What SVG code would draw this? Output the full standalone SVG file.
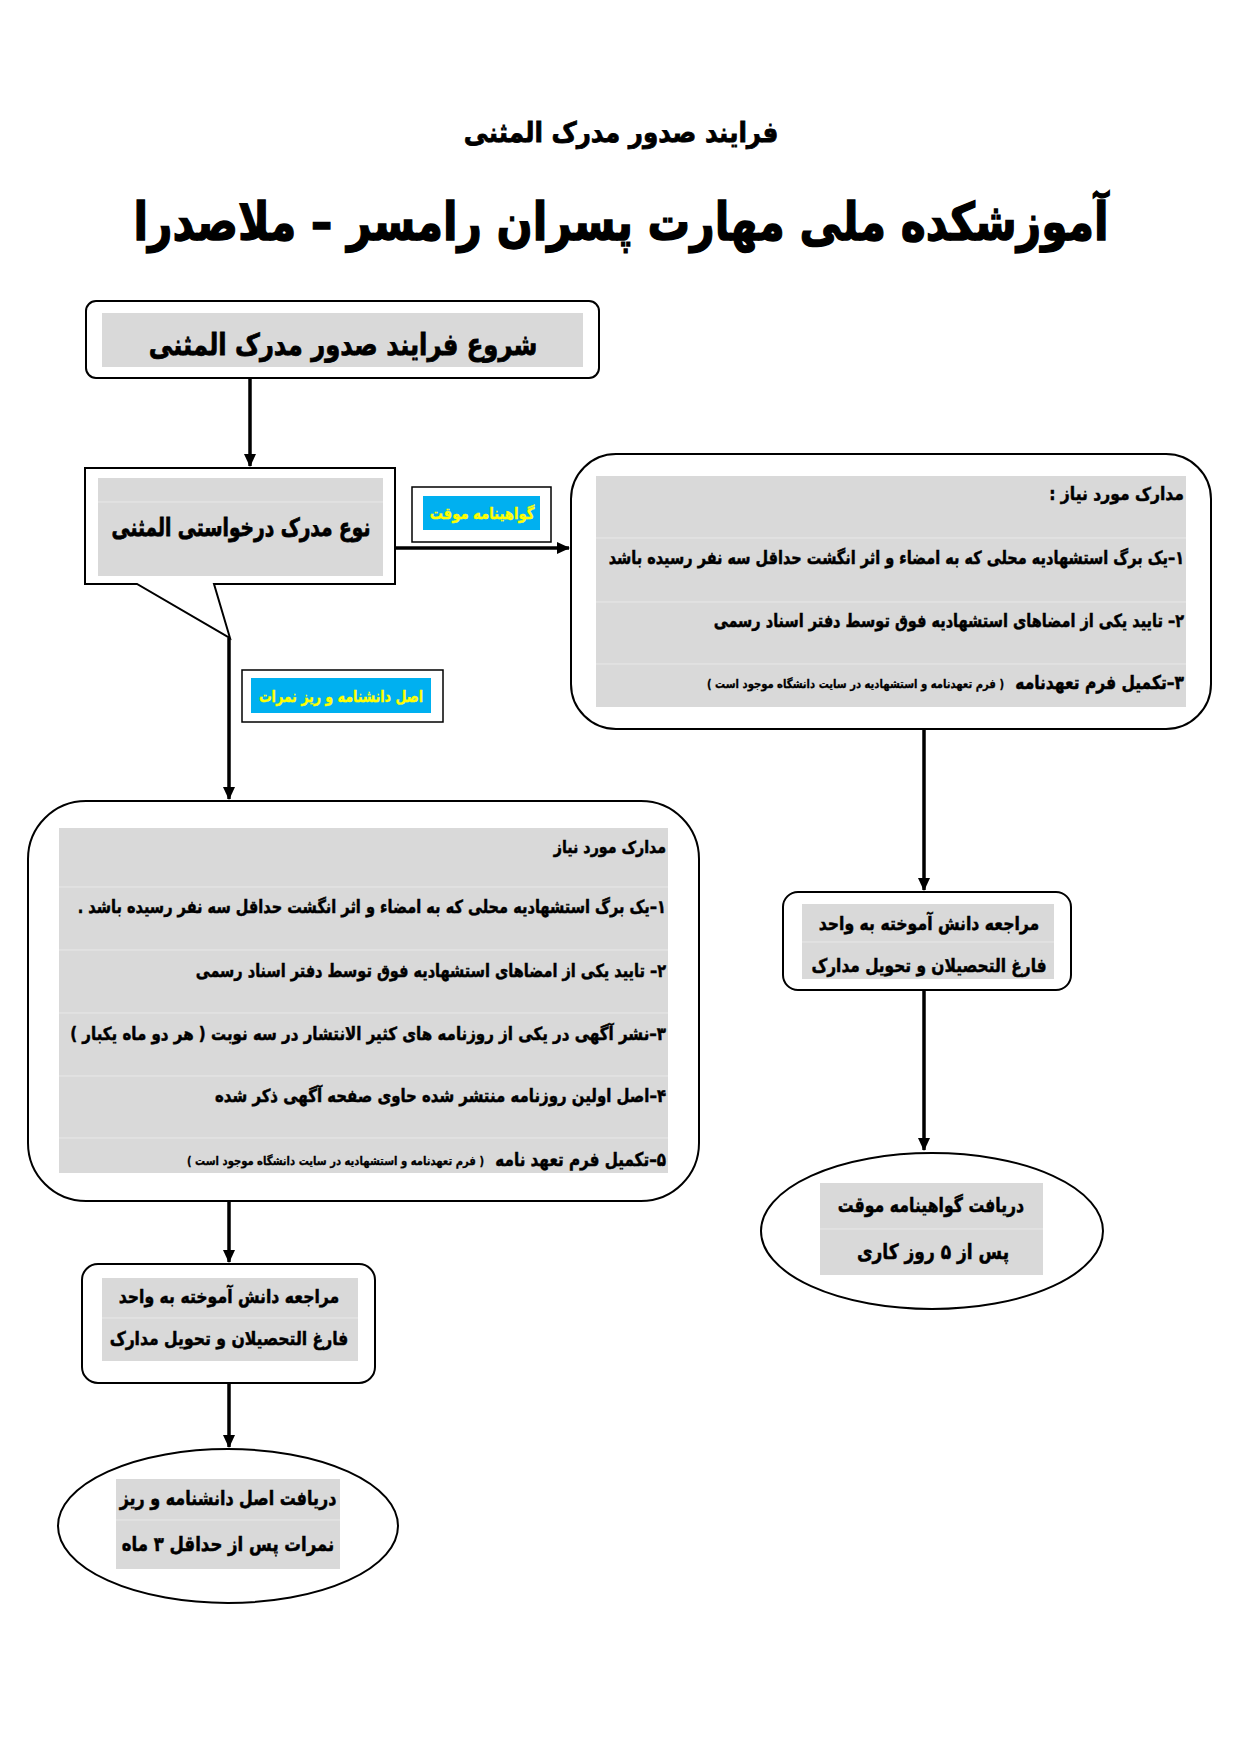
<svg xmlns="http://www.w3.org/2000/svg" width="1241" height="1755" viewBox="0 0 1241 1755">
<style>
text{font-family:"DejaVu Sans","Noto Sans",sans-serif;font-weight:bold;fill:#000;stroke:#000;stroke-width:0.5}
.c{text-anchor:middle}
.r{direction:rtl;text-anchor:start}
.box{fill:#fff;stroke:#000;stroke-width:2}
.gray{fill:#d9d9d9}
.sep{stroke:#e8e8e8;stroke-width:1}
.cyan{fill:#00b0f0}
.lbl{fill:#ffff00;stroke:#ffff00;stroke-width:0.4;font-size:16px}
.conn{stroke:#000;stroke-width:3.5;fill:none}
.li{font-size:18px}
.sm{font-size:12px;stroke-width:0.3}
.big{stroke-width:1.4}
.mid{stroke-width:0.8}
</style>
<defs>
<marker id="ah" markerUnits="userSpaceOnUse" markerWidth="14" markerHeight="14" refX="12" refY="7" orient="auto">
<path d="M0,1 L13,7 L0,13 Z" fill="#000"/>
</marker>
</defs>

<g id="title">
<text class="c mid" transform="translate(621,142) scale(0.879,1)" font-size="28">فرایند صدور مدرک المثنی</text>
<text class="c big" transform="translate(621,240) scale(0.816,1)" font-size="52">آموزشکده ملی مهارت پسران رامسر  –  ملاصدرا</text>
</g>

<g id="connectors">
<line class="conn" x1="250" y1="378" x2="250" y2="466" marker-end="url(#ah)"/>
<line class="conn" x1="395" y1="548" x2="569" y2="548" marker-end="url(#ah)"/>
<line class="conn" x1="229" y1="638" x2="229" y2="799" marker-end="url(#ah)"/>
<line class="conn" x1="924" y1="729" x2="924" y2="890" marker-end="url(#ah)"/>
<line class="conn" x1="924" y1="990" x2="924" y2="1150" marker-end="url(#ah)"/>
<line class="conn" x1="229" y1="1201" x2="229" y2="1262" marker-end="url(#ah)"/>
<line class="conn" x1="229" y1="1383" x2="229" y2="1447" marker-end="url(#ah)"/>
</g>

<g id="start">
<rect class="box" x="86" y="301" width="513" height="77" rx="10"/>
<rect class="gray" x="102" y="313" width="481" height="54"/>
<text class="c mid" transform="translate(343,355) scale(0.808,1)" font-size="30">شروع فرایند صدور مدرک المثنی</text>
</g>

<g id="decision">
<path class="box" d="M85,468 H395 V584 H214 L230,638 L137,584 H85 Z"/>
<rect class="gray" x="98" y="478" width="285" height="98"/>
<line class="sep" x1="98" y1="502" x2="383" y2="502"/>
<text class="c mid" transform="translate(241,536) scale(0.744,1)" font-size="25">نوع مدرک درخواستی المثنی</text>
</g>

<g id="label-temp">
<rect x="412" y="487" width="139" height="55" fill="#fff" stroke="#000" stroke-width="1.5"/>
<rect class="cyan" x="423" y="496" width="117" height="34"/>
<text class="c lbl" transform="translate(482,519) scale(0.82,1)">گواهینامه موقت</text>
</g>

<g id="label-orig">
<rect x="242" y="670" width="201" height="52" fill="#fff" stroke="#000" stroke-width="1.5"/>
<rect class="cyan" x="251" y="678" width="180" height="35"/>
<text class="c lbl" transform="translate(341,702) scale(0.786,1)">اصل دانشنامه و ریز نمرات</text>
</g>

<g id="docs-temp">
<rect class="box" x="571" y="454" width="640" height="275" rx="45"/>
<rect class="gray" x="596" y="476" width="590" height="231"/>
<line class="sep" x1="596" y1="538" x2="1186" y2="538"/>
<line class="sep" x1="596" y1="602" x2="1186" y2="602"/>
<line class="sep" x1="596" y1="664" x2="1186" y2="664"/>
<text class="r" transform="translate(1184,500) scale(0.866,1)" font-size="18">مدارک مورد نیاز :</text>
<text class="r li" transform="translate(1184,564) scale(0.805,1)">۱–یک برگ استشهادیه محلی که به امضاء و اثر انگشت حداقل سه نفر رسیده باشد</text>
<text class="r li" transform="translate(1184,627) scale(0.805,1)">۲– تایید یکی از امضاهای استشهادیه فوق توسط دفتر اسناد رسمی</text>
<text class="r" transform="translate(1184,689) scale(0.815,1)" font-size="19">۳–تکمیل فرم تعهدنامه</text>
<text class="r sm" transform="translate(1004,688) scale(0.836,1)">( فرم تعهدنامه و استشهادیه در  سایت دانشگاه موجود است )</text>
</g>

<g id="docs-orig">
<rect class="box" x="28" y="801" width="671" height="400" rx="58"/>
<rect class="gray" x="59" y="828" width="609" height="345"/>
<line class="sep" x1="59" y1="887" x2="668" y2="887"/>
<line class="sep" x1="59" y1="950" x2="668" y2="950"/>
<line class="sep" x1="59" y1="1013" x2="668" y2="1013"/>
<line class="sep" x1="59" y1="1076" x2="668" y2="1076"/>
<line class="sep" x1="59" y1="1138" x2="668" y2="1138"/>
<text class="r" transform="translate(666,853) scale(0.835,1)" font-size="17">مدارک مورد نیاز</text>
<text class="r li" transform="translate(666,913) scale(0.808,1)">۱–یک برگ استشهادیه محلی که به امضاء و اثر انگشت حداقل سه نفر رسیده باشد .</text>
<text class="r li" transform="translate(666,977) scale(0.805,1)">۲– تایید یکی از امضاهای استشهادیه فوق توسط دفتر اسناد رسمی</text>
<text class="r li" transform="translate(666,1040) scale(0.837,1)">۳–نشر آگهی در یکی از روزنامه های کثیر الانتشار در سه نوبت  ( هر دو ماه یکبار )</text>
<text class="r li" transform="translate(666,1102) scale(0.831,1)">۴–اصل اولین روزنامه منتشر شده حاوی صفحه آگهی ذکر شده</text>
<text class="r" transform="translate(666,1166) scale(0.799,1)" font-size="19">۵–تکمیل فرم تعهد نامه</text>
<text class="r sm" transform="translate(484,1165) scale(0.836,1)">( فرم تعهدنامه و استشهادیه در  سایت دانشگاه موجود است )</text>
</g>

<g id="office-right">
<rect class="box" x="783" y="892" width="288" height="98" rx="15"/>
<rect class="gray" x="802" y="904" width="252" height="75"/>
<line class="sep" x1="802" y1="942" x2="1054" y2="942"/>
<text class="c" transform="translate(929,930) scale(0.825,1)" font-size="19">مراجعه دانش آموخته به واحد</text>
<text class="c" transform="translate(929,972) scale(0.81,1)" font-size="19">فارغ التحصیلان و تحویل مدارک</text>
</g>

<g id="end-right">
<ellipse class="box" cx="932" cy="1231" rx="171" ry="78"/>
<rect class="gray" x="820" y="1183" width="223" height="92"/>
<line class="sep" x1="820" y1="1229" x2="1043" y2="1229"/>
<text class="c" transform="translate(931,1212) scale(0.785,1)" font-size="20">دریافت گواهینامه موقت</text>
<text class="c" transform="translate(933,1259) scale(0.812,1)" font-size="21">پس از ۵ روز کاری</text>
</g>

<g id="office-left">
<rect class="box" x="82" y="1264" width="293" height="119" rx="16"/>
<rect class="gray" x="102" y="1278" width="256" height="83"/>
<line class="sep" x1="102" y1="1318" x2="358" y2="1318"/>
<text class="c" transform="translate(229,1303) scale(0.825,1)" font-size="19">مراجعه دانش آموخته به واحد</text>
<text class="c" transform="translate(229,1345) scale(0.823,1)" font-size="19">فارغ التحصیلان و تحویل مدارک</text>
</g>

<g id="end-left">
<ellipse class="box" cx="228" cy="1526" rx="170" ry="77"/>
<rect class="gray" x="116" y="1479" width="224" height="90"/>
<line class="sep" x1="116" y1="1520" x2="340" y2="1520"/>
<text class="c" transform="translate(228,1505) scale(0.797,1)" font-size="20">دریافت اصل دانشنامه و ریز</text>
<text class="c" transform="translate(228,1551) scale(0.827,1)" font-size="20">نمرات پس از حداقل ۳ ماه</text>
</g>
</svg>
